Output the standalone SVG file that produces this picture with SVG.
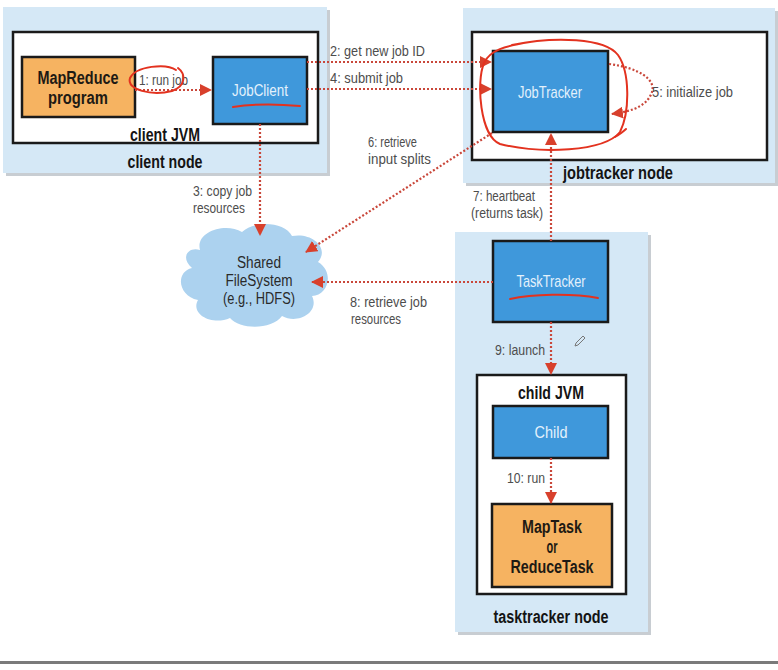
<svg xmlns="http://www.w3.org/2000/svg" width="778" height="670" viewBox="0 0 778 670">
<style>
text{font-family:"Liberation Sans",Arial,sans-serif;}
.node{fill:#d5e8f6;}
.shadow{fill:#9aa4ad;opacity:0.55;}
.jvm{fill:#ffffff;stroke:#1a1a1a;stroke-width:2.5;}
.blue{fill:#3f98db;stroke:#1a1a1a;stroke-width:2.5;}
.orange{fill:#f6b361;stroke:#1a1a1a;stroke-width:2.5;}
.bt{fill:#e3f1fb;font-size:17px;text-anchor:middle;}
.ot{fill:#1e1a14;font-size:18px;font-weight:bold;text-anchor:middle;}
.nl{fill:#141414;font-size:18px;font-weight:bold;text-anchor:middle;}
.lbl{fill:#4d4d4d;font-size:14px;}
.cl{fill:#2a2a2a;font-size:16px;text-anchor:middle;}
.conn{fill:none;stroke:#c9473a;stroke-width:2.2;stroke-dasharray:2 2;}
.ann{fill:none;stroke:#e3321f;stroke-width:2;stroke-linecap:round;}
</style>
<defs>
<marker id="ah" viewBox="0 0 12 12" refX="11" refY="6" markerWidth="12" markerHeight="12" markerUnits="userSpaceOnUse" orient="auto">
<path d="M0,0 L12,6 L0,12 z" fill="#d8402c"/>
</marker>
</defs>
<rect width="778" height="670" fill="#ffffff"/>

<g id="client-node">
<rect class="shadow" x="6" y="10" width="324" height="166"/>
<rect class="node" x="3" y="7" width="324" height="166"/>
<text class="nl" x="165" y="168" textLength="75" lengthAdjust="spacingAndGlyphs">client node</text>
</g>
<g id="client-jvm">
<rect class="jvm" x="13" y="32" width="305" height="111"/>
<text class="nl" x="165" y="141" textLength="70" lengthAdjust="spacingAndGlyphs">client JVM</text>
</g>
<g id="mapreduce-program">
<rect class="orange" x="22" y="57" width="113" height="60"/>
<text class="ot" x="78" y="84" textLength="81" lengthAdjust="spacingAndGlyphs">MapReduce</text>
<text class="ot" x="78" y="104" textLength="60" lengthAdjust="spacingAndGlyphs">program</text>
</g>
<g id="jobclient">
<rect class="blue" x="213" y="57" width="94" height="67"/>
<text class="bt" x="260" y="96" textLength="56" lengthAdjust="spacingAndGlyphs">JobClient</text>
</g>

<g id="jobtracker-node">
<rect class="shadow" x="466" y="11" width="312" height="175"/>
<rect class="node" x="463" y="8" width="312" height="175"/>
<rect class="jvm" x="472" y="32" width="295" height="128"/>
<text class="nl" x="618" y="179" textLength="110" lengthAdjust="spacingAndGlyphs">jobtracker node</text>
</g>
<g id="jobtracker">
<rect class="blue" x="493" y="51" width="115" height="81"/>
<text class="bt" x="550" y="98" textLength="64" lengthAdjust="spacingAndGlyphs">JobTracker</text>
</g>

<g id="shared-filesystem">
<path d="M200,250 C195,232 225,222 242,232 C255,220 285,222 292,236 C312,232 330,248 318,262 C335,272 328,296 312,296 C320,312 298,325 282,316 C272,330 240,330 230,318 C212,326 190,314 198,300 C178,296 175,272 192,268 C180,258 188,246 200,250 Z" fill="#acd2ef"/>
<text class="cl" x="259" y="268" textLength="44" lengthAdjust="spacingAndGlyphs">Shared</text>
<text class="cl" x="259" y="286" textLength="67" lengthAdjust="spacingAndGlyphs">FileSystem</text>
<text class="cl" x="259" y="304" textLength="72" lengthAdjust="spacingAndGlyphs">(e.g., HDFS)</text>
</g>

<g id="tasktracker-node">
<rect class="shadow" x="458" y="235" width="193" height="400"/>
<rect class="node" x="455" y="232" width="193" height="400"/>
<text class="nl" x="551" y="623" textLength="115" lengthAdjust="spacingAndGlyphs">tasktracker node</text>
</g>
<g id="tasktracker">
<rect class="blue" x="493" y="241" width="115" height="81"/>
<text class="bt" x="551" y="287" textLength="69" lengthAdjust="spacingAndGlyphs">TaskTracker</text>
</g>
<g id="child-jvm">
<rect class="jvm" x="477" y="375" width="149" height="219"/>
<text class="nl" x="551" y="399" textLength="66" lengthAdjust="spacingAndGlyphs">child JVM</text>
</g>
<g id="child">
<rect class="blue" x="493" y="406" width="115" height="52"/>
<text class="bt" x="551" y="438" textLength="33" lengthAdjust="spacingAndGlyphs">Child</text>
</g>
<g id="maptask">
<rect class="orange" x="492" y="504" width="120" height="83"/>
<text class="ot" x="552" y="533" textLength="60" lengthAdjust="spacingAndGlyphs">MapTask</text>
<text class="ot" x="552" y="553" textLength="11" lengthAdjust="spacingAndGlyphs">or</text>
<text class="ot" x="552" y="573" textLength="83" lengthAdjust="spacingAndGlyphs">ReduceTask</text>
</g>

<g id="connectors">
<path class="conn" d="M135,90 L211,90" marker-end="url(#ah)"/>
<text class="lbl" x="139" y="85" textLength="49" lengthAdjust="spacingAndGlyphs">1: run job</text>
<path class="conn" d="M307,62 L491,62" marker-end="url(#ah)"/>
<text class="lbl" x="330" y="56" textLength="95" lengthAdjust="spacingAndGlyphs">2: get new job ID</text>
<path class="conn" d="M307,89 L491,89" marker-end="url(#ah)"/>
<text class="lbl" x="330" y="83" textLength="73" lengthAdjust="spacingAndGlyphs">4: submit job</text>
<path class="conn" d="M260,124 L260,235" marker-end="url(#ah)"/>
<text class="lbl" x="193" y="196" textLength="59" lengthAdjust="spacingAndGlyphs">3: copy job</text>
<text class="lbl" x="193" y="213" textLength="52" lengthAdjust="spacingAndGlyphs">resources</text>
<path class="conn" d="M609,64 C640,68 656,80 652,92 C648,104 636,111 612,114" marker-end="url(#ah)"/>
<text class="lbl" x="652" y="97" textLength="81" lengthAdjust="spacingAndGlyphs">5: initialize job</text>
<path class="conn" d="M492,133 L306,252" marker-end="url(#ah)"/>
<text class="lbl" x="368" y="147" textLength="49" lengthAdjust="spacingAndGlyphs">6: retrieve</text>
<text class="lbl" x="368" y="164" textLength="63" lengthAdjust="spacingAndGlyphs">input splits</text>
<path class="conn" d="M551,241 L551,134" marker-end="url(#ah)"/>
<text class="lbl" x="473" y="201" textLength="62" lengthAdjust="spacingAndGlyphs">7: heartbeat</text>
<text class="lbl" x="471" y="218" textLength="72" lengthAdjust="spacingAndGlyphs">(returns task)</text>
<path class="conn" d="M493,282 L312,282" marker-end="url(#ah)"/>
<text class="lbl" x="350" y="307" textLength="77" lengthAdjust="spacingAndGlyphs">8: retrieve job</text>
<text class="lbl" x="351" y="324" textLength="50" lengthAdjust="spacingAndGlyphs">resources</text>
<path class="conn" d="M551,322 L551,374" marker-end="url(#ah)"/>
<text class="lbl" x="495" y="355" textLength="50" lengthAdjust="spacingAndGlyphs">9: launch</text>
<path class="conn" d="M551,458 L551,503" marker-end="url(#ah)"/>
<text class="lbl" x="507" y="483" textLength="38" lengthAdjust="spacingAndGlyphs">10: run</text>
</g>

<g id="annotations">
<path class="ann" d="M176,70 C166,63 136,66 130,78 C126,90 152,96 172,91 C186,86 186,74 178,68"/>
<path class="ann" d="M233,107 C252,104 278,104 300,106"/>
<path class="ann" d="M512,45 C555,36 605,38 618,55 C630,72 630,112 620,132 C604,152 540,154 500,144 C480,136 476,82 484,63 C490,50 505,46 530,42"/>
<path class="ann" d="M615,137 C620,134 624,131 626,129"/>
<path class="ann" d="M510,299 C532,294 572,293 598,298"/>
<path d="M576,343 L583,336 L585,338 L578,345 L575,346 Z" fill="none" stroke="#777" stroke-width="1"/>
</g>

<rect x="0" y="661" width="778" height="3" fill="#7a7a7a"/>
</svg>
